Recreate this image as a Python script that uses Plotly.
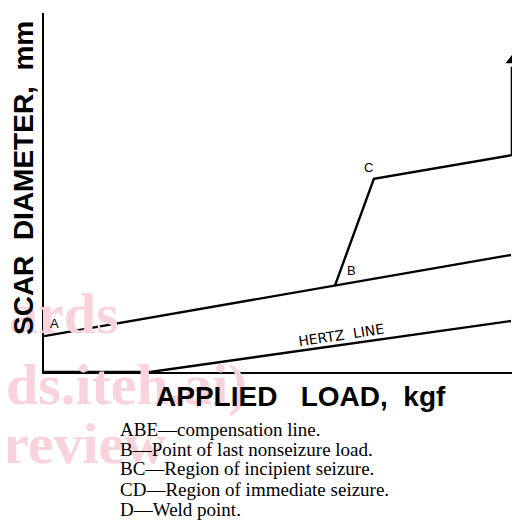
import plotly.graph_objects as go

# ---- data (schematic units) ----
load_abe = [0, 61.1, 98.1]          # A, B, E
diam_abe = [10.0, 24.0, 32.6]
load_bcd = [61.1, 69.3, 98.3]       # B, C, D
diam_bcd = [24.0, 53.8, 60.4]
weld_load = [98.3, 98.3]            # D -> arrow
weld_diam = [60.4, 85.0]
weld_tip = 89.0
load_hertz = [0, 22.3, 98.1]
diam_hertz = [0, 0, 14.2]

point_labels = ["A", "B", "C", "E", "D"]
point_x = [0, 61.1, 69.3, 98.1, 98.3]
point_y = [10.0, 24.0, 53.8, 32.6, 60.4]

x_title = "APPLIED\u00a0\u00a0\u00a0LOAD,\u00a0\u00a0kgf"
y_title = "SCAR\u00a0\u00a0DIAMETER,\u00a0\u00a0mm"
caption = [
    "ABE\u2014compensation line.",
    "B\u2014Point of last nonseizure load.",
    "BC\u2014Region of incipient seizure.",
    "CD\u2014Region of immediate seizure.",
    "D\u2014Weld point.",
]

# page body has an 8px margin; build the figure 8px smaller and offset
OFF = 8
W, H = 520 - OFF, 527 - OFF
L, R, T, B = 44 - OFF, 0, 13 - OFF, 155
PW, PH = W - L - R, H - T - B


def px(xr):
    return (xr - OFF - L) / PW


def py(yr):
    return (H - B - (yr - OFF)) / PH


fig = go.Figure()
line = dict(color="black", width=2.4)
fig.add_trace(go.Scatter(x=load_abe, y=diam_abe, mode="lines", line=line, hoverinfo="skip"))
fig.add_trace(go.Scatter(x=load_bcd, y=diam_bcd, mode="lines", line=line, hoverinfo="skip"))
fig.add_trace(go.Scatter(x=weld_load, y=weld_diam, mode="lines", line=line, hoverinfo="skip"))
fig.add_trace(go.Scatter(x=[weld_load[0]], y=[weld_tip - 2.2], mode="markers", hoverinfo="skip",
                         marker=dict(symbol="triangle-up", size=11, color="black",
                                     line=dict(width=0))))
fig.add_trace(go.Scatter(x=load_hertz, y=diam_hertz, mode="lines", line=line, hoverinfo="skip"))

ann = []
# watermark (drawn first so other text sits above it)
wm = dict(family="Liberation Serif", size=58, color="#f8d3db", weight="bold")
for txt, right, base in [("ards", 121, 333), ("ds.iteh.ai)", 250, 404), ("review", 168, 463)]:
    ann.append(dict(x=px(right), y=py(base - 20), xref="paper", yref="paper", text=txt,
                    showarrow=False, xanchor="right", yanchor="middle", font=wm))

shifts = {"A": (10, 13), "B": (17, 15), "C": (-5, 11), "E": (6, 0), "D": (7, 0)}
for lab, xv, yv in zip(point_labels, point_x, point_y):
    dx, dy = shifts[lab]
    ann.append(dict(x=xv, y=yv, xref="x", yref="y", text=lab, showarrow=False,
                    xshift=dx, yshift=dy, yanchor="middle",
                    xanchor="left" if lab in ("E", "D") else "center",
                    font=dict(family="Liberation Sans", size=13, color="black")))

# Hertz line label
ann.append(dict(x=px(341), y=py(335), xref="paper", yref="paper", text="HERTZ\u00a0\u00a0LINE",
                showarrow=False, textangle=-8.5, xanchor="center", yanchor="middle",
                font=dict(family="DejaVu Sans", size=14, color="black")))

# axis titles
ann.append(dict(x=px(301), y=py(396), xref="paper", yref="paper", text=x_title, showarrow=False,
                xanchor="center", yanchor="middle",
                font=dict(family="Liberation Sans", size=28, color="black", weight="bold")))
ann.append(dict(x=px(23), y=py(178), xref="paper", yref="paper", text=y_title, showarrow=False,
                textangle=-90, xanchor="center", yanchor="middle",
                font=dict(family="Liberation Sans", size=28, color="black", weight="bold")))

# caption
for i, t in enumerate(caption):
    ann.append(dict(x=px(118), y=py(429 + 20 * i), xref="paper", yref="paper", text=t,
                    showarrow=False, xanchor="left", yanchor="middle",
                    font=dict(family="Liberation Serif", size=19, color="black")))

fig.update_layout(
    width=W, height=H, margin=dict(l=L, r=R, t=T, b=B, pad=0),
    paper_bgcolor="white", plot_bgcolor="white", showlegend=False,
    annotations=ann,
    xaxis=dict(range=[0, 100], showline=True, linecolor="black", linewidth=2.4,
               showgrid=False, zeroline=False, showticklabels=False, ticks="", fixedrange=True),
    yaxis=dict(range=[0, 100], showline=True, linecolor="black", linewidth=2.4,
               showgrid=False, zeroline=False, showticklabels=False, ticks="", fixedrange=True),
)
fig.write_html("out.html", config={"displayModeBar": False})
